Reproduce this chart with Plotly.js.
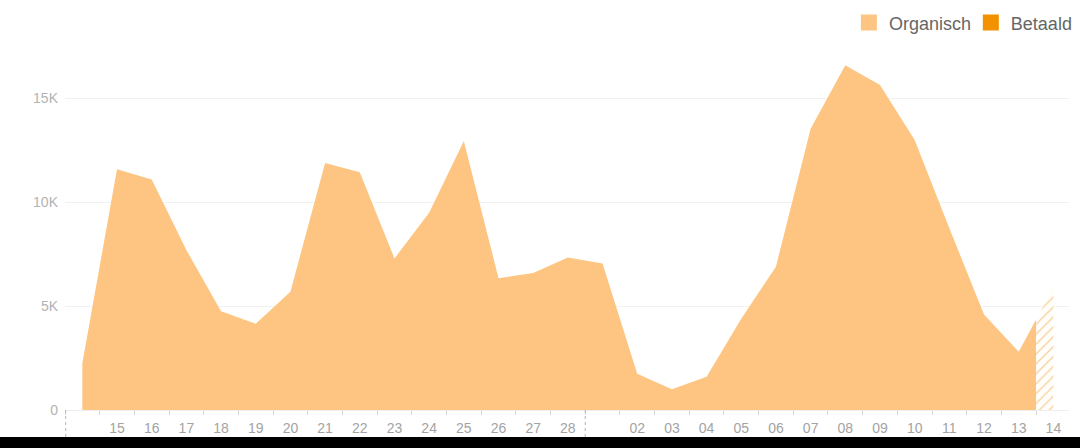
<!DOCTYPE html>
<html>
<head>
<meta charset="utf-8">
<script src="https://cdn.plot.ly/plotly-3.0.1.min.js"></script>
<style>
  html, body { margin: 0; padding: 0; background: #000; }
  #chart { width: 1080px; height: 437px; background: #fff; }
</style>
</head>
<body>
<div id="chart"></div>
<script>
// Days (14 Feb .. 14 Mar)
const days = ['14','15','16','17','18','19','20','21','22','23','24','25','26','27','28',
              '01','02','03','04','05','06','07','08','09','10','11','12','13','14'];
// Organic reach per day
const organisch = [2250,11600,11100,7700,4750,4150,5700,11900,11450,7300,9500,12950,6350,6600,7350,
                   7050,1750,1000,1600,4400,6900,13550,16600,15650,13000,8750,4600,2800,5900];
// x tick labels (first day and first of month unlabelled)
const tickLabels = ['','15','16','17','18','19','20','21','22','23','24','25','26','27','28',
                    '','02','03','04','05','06','07','08','09','10','11','12','13','14'];
// y tick labels
const yTickVals = [0, 5000, 10000, 15000];
const yTickText = ['0', '5K', '10K', '15K'];
// legend entries
const seriesNames = ['Organisch', 'Betaald'];

const idx = days.map((d, i) => i);
const labelVals = idx.filter(i => tickLabels[i] !== '');
const labelText = labelVals.map(i => tickLabels[i]);

const lastIdx = idx.length - 1;
const xMin = -0.5, split = lastIdx - 0.5, xMax = lastIdx + 0.45;
const splitFrac = (split - xMin) / (xMax - xMin);

const orange = '#fdc581';
const orangeDark = '#f39200';

const traces = [
  { x: idx, y: organisch, type: 'scatter', mode: 'none', fill: 'tozeroy',
    fillcolor: orange, xaxis: 'x', yaxis: 'y', showlegend: false, hoverinfo: 'skip' },
  { x: idx, y: organisch, type: 'scatter', mode: 'none', fill: 'tozeroy',
    fillcolor: 'rgba(255,255,255,0)',
    fillpattern: { shape: '/', fgcolor: '#f9d6a6', bgcolor: '#fffefb', size: 7, solidity: 0.22 },
    xaxis: 'x2', yaxis: 'y2', showlegend: false, hoverinfo: 'skip' },
  { x: [null], y: [null], type: 'scatter', mode: 'markers', name: seriesNames[0],
    legend: 'legend', marker: { symbol: 'square', size: 16, color: orange } },
  { x: [null], y: [null], type: 'scatter', mode: 'markers', name: seriesNames[1],
    legend: 'legend2', marker: { symbol: 'square', size: 16, color: orangeDark } }
];

const legendFont = { size: 18, color: '#666' };
const gridColor = '#f1f1f1';
const layout = {
  width: 1080, height: 437,
  margin: { l: 65, r: 11, t: 57, b: 27 },
  paper_bgcolor: '#ffffff', plot_bgcolor: '#ffffff',
  font: { family: 'Liberation Sans, Arial, sans-serif', color: '#999' },
  showlegend: true,
  legend: {
    orientation: 'h', xref: 'container', yref: 'container',
    x: 0.786, xanchor: 'left', y: 0.99, yanchor: 'top',
    bgcolor: 'rgba(0,0,0,0)', font: legendFont, itemclick: false
  },
  legend2: {
    orientation: 'h', xref: 'container', yref: 'container',
    x: 0.998, xanchor: 'right', y: 0.99, yanchor: 'top',
    bgcolor: 'rgba(0,0,0,0)', font: legendFont, itemclick: false
  },
  xaxis: {
    domain: [0, splitFrac], range: [xMin, split], anchor: 'y',
    tickmode: 'array', tickvals: labelVals, ticktext: labelText,
    ticks: '', ticklabelstandoff: 5,
    tickfont: { size: 14, color: '#a3a3a3' },
    showgrid: false, zeroline: false,
    showline: true, linecolor: '#eeeeee', linewidth: 1,
    minor: { tickmode: 'linear', tick0: -0.5, dtick: 1, ticks: 'outside', ticklen: 4,
             tickcolor: '#d5d5d5', tickwidth: 1, showgrid: false }
  },
  yaxis: {
    range: [0, 17000], anchor: 'x',
    tickmode: 'array', tickvals: yTickVals, ticktext: yTickText,
    tickfont: { size: 14, color: '#b3b3b3' },
    showgrid: true, gridcolor: gridColor, zeroline: false, showline: false,
    ticks: '', ticklabelstandoff: 6
  },
  xaxis2: {
    domain: [splitFrac, 1], range: [split, xMax], anchor: 'y2',
    tickmode: 'array', tickvals: labelVals, ticktext: labelText,
    ticks: '', ticklabelstandoff: 5,
    tickfont: { size: 14, color: '#a3a3a3' },
    showgrid: false, zeroline: false,
    showline: true, linecolor: '#eeeeee', linewidth: 1
  },
  yaxis2: {
    range: [0, 17000], anchor: 'x2', tickvals: yTickVals,
    showticklabels: false, showgrid: true, gridcolor: gridColor,
    zeroline: false, showline: false, ticks: ''
  },
  shapes: [
    { type: 'line', xref: 'x', yref: 'paper', x0: -0.48, x1: -0.48, y0: 0, y1: -0.09,
      line: { color: '#b5b5b5', width: 1, dash: 'dot' } },
    { type: 'line', xref: 'x', yref: 'paper', x0: 14.5, x1: 14.5, y0: 0, y1: -0.09,
      line: { color: '#b5b5b5', width: 1, dash: 'dot' } }
  ]
};

Plotly.newPlot('chart', traces, layout, { displayModeBar: false, staticPlot: true });
</script>
</body>
</html>
